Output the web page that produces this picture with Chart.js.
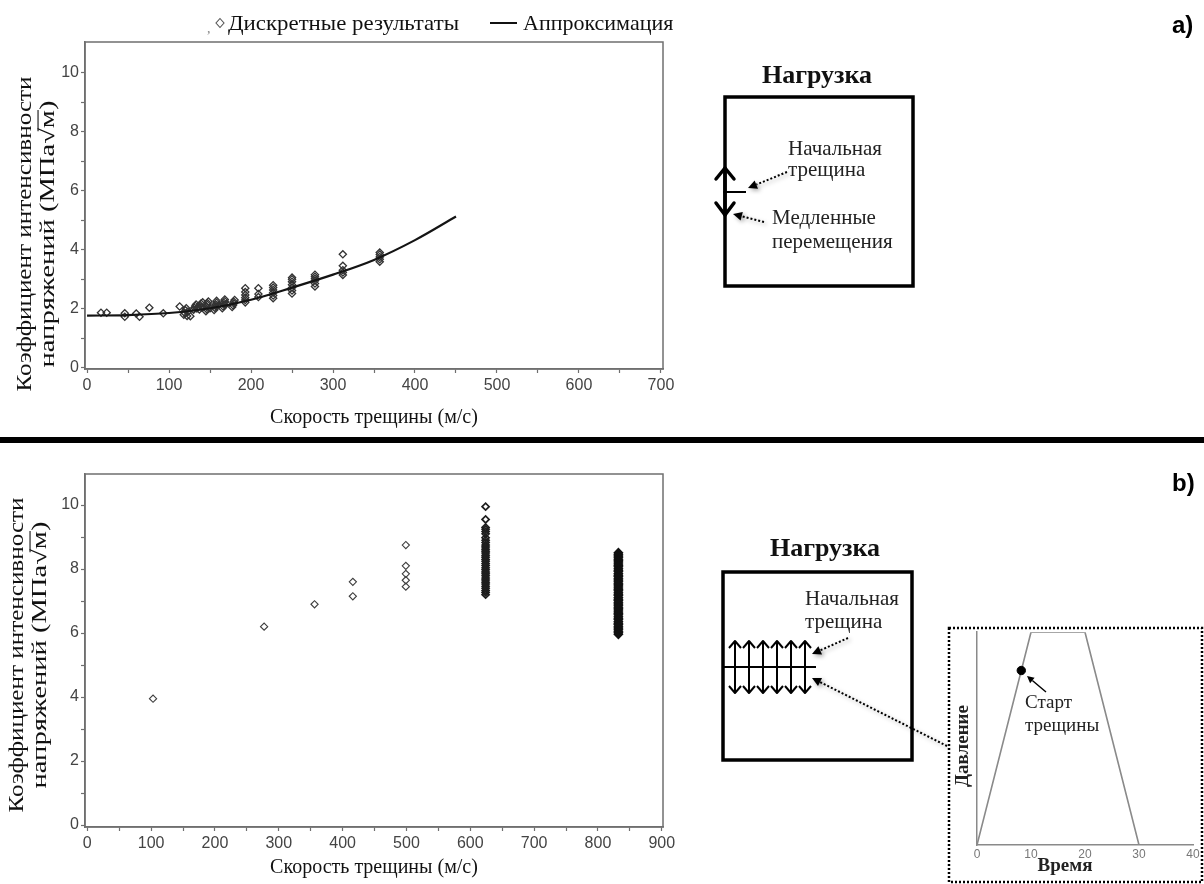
<!DOCTYPE html>
<html>
<head>
<meta charset="utf-8">
<script src="https://cdn.jsdelivr.net/npm/chart.js@4.4.1/dist/chart.umd.min.js"></script>
<style>
  html, body { margin: 0; padding: 0; background: #fff; }
  #page { position: relative; width: 1204px; height: 884px; overflow: hidden; background: #fff; }
  canvas { position: absolute; }
  #art { position: absolute; left: 0; top: 0; }
</style>
</head>
<body>
<div id="page">
  <canvas id="chartA" width="700" height="440" style="left:0;top:0"></canvas>
  <canvas id="chartB" width="700" height="440" style="left:0;top:444px"></canvas>
  <canvas id="chartP" width="256" height="257" style="left:948px;top:627px"></canvas>

  <svg id="art" width="1204" height="884" viewBox="0 0 1204 884"
       font-family="'Liberation Serif', 'Times New Roman', serif">
    <!-- legend of panel a -->
    <text x="207" y="33" font-size="14" fill="#888">,</text>
    <polygon points="220,18.5 224,23 220,27.5 216,23" fill="none" stroke="#555" stroke-width="1.1"/>
    <text x="228" y="30" font-size="22" fill="#111" textLength="231" lengthAdjust="spacingAndGlyphs">Дискретные результаты</text>
    <line x1="490" y1="23" x2="517" y2="23" stroke="#111" stroke-width="2"/>
    <text x="523" y="30" font-size="22" fill="#111">Аппроксимация</text>

    <!-- vertical axis titles are added by the script below -->
    <g id="ytitles"></g>

    <!-- divider and panel letters -->
    <rect x="0" y="437" width="1204" height="6" fill="#000"/>
    <g font-family="'Liberation Sans', Arial, sans-serif" font-weight="bold" font-size="24" fill="#000">
      <text x="1172" y="33">a)</text>
      <text x="1172" y="491">b)</text>
    </g>

    <!-- panel a: loading scheme -->
    <text x="817" y="83" font-size="26" font-weight="bold" text-anchor="middle" fill="#111">Нагрузка</text>
    <rect x="725" y="97" width="188" height="189" fill="none" stroke="#000" stroke-width="3.5"/>
    <line x1="725" y1="192" x2="746" y2="192" stroke="#000" stroke-width="2"/>
    <g stroke="#000" stroke-width="3.5" fill="none" stroke-linecap="round" stroke-linejoin="round">
      <line x1="725" y1="192" x2="725" y2="168"/>
      <polyline points="716,179 725,168 734,179"/>
      <line x1="725" y1="192" x2="725" y2="215"/>
      <polyline points="716,203 725,215 734,203"/>
    </g>
    <g font-size="21" fill="#222">
      <text x="788" y="155">Начальная</text>
      <text x="788" y="176">трещина</text>
      <text x="772" y="224">Медленные</text>
      <text x="772" y="248">перемещения</text>
    </g>

    <!-- panel b: loading scheme -->
    <text x="825" y="556" font-size="26" font-weight="bold" text-anchor="middle" fill="#111">Нагрузка</text>
    <rect x="723" y="572" width="189" height="188" fill="none" stroke="#000" stroke-width="3.5"/>
    <line x1="723" y1="667" x2="816" y2="667" stroke="#000" stroke-width="2"/>
    <g id="pulls" stroke="#000" stroke-width="2" fill="none" stroke-linejoin="round"></g>
    <g font-size="21" fill="#222">
      <text x="805" y="605">Начальная</text>
      <text x="805" y="628">трещина</text>
    </g>

    <!-- pressure history frame and its labels -->
    <rect x="949" y="628" width="253" height="254" fill="none" stroke="#000" stroke-width="2.5" stroke-dasharray="2 2"/>
    <g font-size="19" fill="#222">
      <text x="1025" y="708">Старт</text>
      <text x="1025" y="731">трещины</text>
    </g>
    <g font-size="19" font-weight="bold" fill="#222" text-anchor="middle">
      <text x="1065" y="871">Время</text>
      <text transform="translate(968,746) rotate(-90)">Давление</text>
    </g>
    <g id="pointers" style="filter: drop-shadow(2px 2px 2px rgba(0,0,0,0.35))"></g>
    <g id="startPointer"></g>
  </svg>
</div>

<script>
// ---------- panel a: slow loading ----------
const topSpeed = [17, 24, 46, 46, 60, 64, 76, 93, 113,
  118, 119, 120, 121, 122, 123, 126,
  130, 131, 132, 133, 134, 136, 137, 138, 139, 140, 141,
  145, 146, 146, 147, 147, 148, 150,
  155, 156, 157, 157, 158, 158, 160,
  165, 166, 167, 167, 168, 168, 170,
  177, 178, 179, 179, 180,
  193, 193, 193, 193, 193, 193,
  209, 209, 209,
  227, 227, 227, 227, 227, 227,
  250, 250, 250, 250, 250, 250, 250,
  278, 278, 278, 278, 278, 278,
  312, 312, 312, 312, 312,
  357, 357, 357, 357, 357];
const topK = [1.87, 1.87, 1.85, 1.73, 1.84, 1.73, 2.04, 1.85, 2.08,
  1.80, 1.87, 1.95, 2.02, 1.76, 1.90, 1.75,
  1.97, 2.04, 2.10, 2.15, 2.01, 2.07, 1.98, 2.12, 2.18, 2.05, 2.22,
  1.92, 1.99, 2.06, 2.13, 2.19, 2.25, 2.02,
  1.96, 2.03, 2.09, 2.15, 2.21, 2.27, 2.12,
  2.02, 2.08, 2.14, 2.20, 2.26, 2.32, 2.17,
  2.06, 2.12, 2.18, 2.24, 2.30,
  2.22, 2.30, 2.38, 2.47, 2.57, 2.70,
  2.40, 2.50, 2.70,
  2.36, 2.45, 2.55, 2.64, 2.72, 2.80,
  2.52, 2.62, 2.72, 2.82, 2.92, 3.00, 3.06,
  2.76, 2.86, 2.95, 3.02, 3.09, 3.16,
  3.15, 3.23, 3.31, 3.46, 3.85,
  3.60, 3.68, 3.76, 3.84, 3.91];

// approximation curve
const fitSpeed = [0, 50, 100, 150, 200, 250, 300, 350, 400, 450];
const fitK = [1.77, 1.79, 1.86, 2.02, 2.31, 2.72, 3.16, 3.66, 4.33, 5.13];

const topXLabels = [0, 100, 200, 300, 400, 500, 600, 700];
const topXMinor = [50, 150, 250, 350, 450, 550, 650];
const yLabels = [0, 2, 4, 6, 8, 10];
const yMinor = [1, 3, 5, 7, 9];

// ---------- panel b: dynamic loading ----------
const bottomSpeed = [103, 277, 356, 416, 416, 499, 499, 499, 499, 499];
const bottomK = [3.95, 6.20, 6.90, 7.15, 7.60, 7.45, 7.65, 7.85, 8.10, 8.75];
const speed624 = 624;
const k624 = [9.95, 9.55, 9.30, 9.24, 9.17, 9.10, 8.98, 8.90, 8.83, 8.75, 8.69, 8.62,
  8.56, 8.50, 8.43, 8.37, 8.30, 8.24, 8.17, 8.11, 8.04, 7.98, 7.91, 7.85, 7.79, 7.72,
  7.66, 7.59, 7.53, 7.46, 7.40, 7.33, 7.27, 7.20];
const speed832 = 832;
const k832 = [8.51, 8.46, 8.41, 8.37, 8.31, 8.26, 8.22, 8.16, 8.11, 8.07, 8.01, 7.96,
  7.92, 7.86, 7.81, 7.77, 7.71, 7.66, 7.62, 7.56, 7.51, 7.47, 7.41, 7.36, 7.32, 7.26,
  7.21, 7.17, 7.11, 7.06, 7.02, 6.96, 6.91, 6.87, 6.81, 6.76, 6.72, 6.66, 6.61, 6.57,
  6.51, 6.46, 6.42, 6.36, 6.31, 6.27, 6.21, 6.16, 6.12, 6.06, 6.01, 5.96];
const bottomXLabels = [0, 100, 200, 300, 400, 500, 600, 700, 800, 900];
const bottomXMinor = [50, 150, 250, 350, 450, 550, 650, 750, 850];

// ---------- pressure history ----------
const pulseTime = [0, 10, 20, 30, 40];
const pulsePressure = [0, 1, 1, 0, 0];
const startTime = [8.2];
const startPressure = [0.82];
const pulseTicks = [0, 10, 20, 30, 40];

// ---------- shared styling ----------
const SERIF = "'Liberation Serif', 'Times New Roman', serif";
const SANS = "'Liberation Sans', Arial, sans-serif";
const AXIS = '#6f6f6f';

const toPoints = (xs, ys) => xs.map((x, i) => ({ x, y: ys[i] }));

// box around the plotting area
const framePlugin = {
  id: 'frame',
  afterDraw(chart, args, opts) {
    const { ctx, chartArea: a } = chart;
    ctx.save();
    ctx.strokeStyle = opts.color || AXIS;
    ctx.lineWidth = opts.width || 1.5;
    ctx.strokeRect(a.left, a.top, a.right - a.left, a.bottom - a.top);
    ctx.restore();
  }
};

function mainScales(opt) {
  return {
    x: {
      type: 'linear', min: opt.xMin, max: opt.xMax,
      afterBuildTicks: s => { s.ticks = opt.xLabels.concat(opt.xMinor).sort((a, b) => a - b).map(v => ({ value: v })); },
      afterFit: s => { s.height = opt.xAxisHeight; },
      ticks: {
        autoSkip: false, maxRotation: 0, padding: 3, color: '#444',
        font: { family: SANS, size: 16 },
        callback: v => opt.xLabels.includes(v) ? String(v) : ''
      },
      grid: { drawOnChartArea: false, drawTicks: true, tickLength: 4, tickColor: AXIS, tickWidth: 1.2 },
      border: { color: AXIS, width: 1.5 },
      title: { display: true, text: 'Скорость трещины (м/с)', color: '#111', padding: 0,
               font: { family: SERIF, size: 20 } }
    },
    y: {
      type: 'linear', min: opt.yMin, max: opt.yMax,
      afterBuildTicks: s => { s.ticks = yLabels.concat(yMinor).sort((a, b) => a - b).map(v => ({ value: v })); },
      afterFit: s => { s.width = 85; },
      ticks: {
        autoSkip: false, padding: 2, color: '#444',
        font: { family: SANS, size: 16 },
        callback: v => yLabels.includes(v) ? String(v) : ''
      },
      grid: { drawOnChartArea: false, drawTicks: true, tickLength: 4, tickColor: AXIS, tickWidth: 1.2 },
      border: { color: AXIS, width: 1.5 },
      title: { display: false }
    }
  };
}

const common = {
  responsive: false,
  animation: false,
  events: [],
  plugins: { legend: { display: false }, tooltip: { enabled: false }, frame: { color: AXIS, width: 1.5 } }
};

// panel a chart
new Chart(document.getElementById('chartA'), {
  type: 'scatter',
  data: {
    datasets: [
      {
        label: 'Аппроксимация',
        data: toPoints(fitSpeed, fitK),
        showLine: true, borderColor: '#141414', borderWidth: 2.2,
        pointRadius: 0, cubicInterpolationMode: 'monotone', fill: false
      },
      {
        label: 'Дискретные результаты',
        data: toPoints(topSpeed, topK),
        pointStyle: 'rectRot', pointRadius: 3.6, pointBorderWidth: 1.3,
        pointBorderColor: '#333', pointBackgroundColor: 'rgba(255,255,255,0)'
      }
    ]
  },
  options: Object.assign({}, common, {
    layout: { padding: { left: 0, top: 42, right: 37, bottom: 10 } },
    scales: mainScales({ xMin: -2.5, xMax: 702.5, yMin: -0.04, yMax: 11.05,
                         xLabels: topXLabels, xMinor: topXMinor, xAxisHeight: 61 })
  }),
  plugins: [framePlugin]
});

// panel b chart
new Chart(document.getElementById('chartB'), {
  type: 'scatter',
  data: {
    datasets: [
      {
        label: 'Дискретные результаты',
        data: toPoints(bottomSpeed, bottomK),
        pointStyle: 'rectRot', pointRadius: 3.6, pointBorderWidth: 1.1,
        pointBorderColor: '#3e3e3e', pointBackgroundColor: 'rgba(255,255,255,0)'
      },
      {
        label: 'Дискретные результаты 624',
        data: k624.map(y => ({ x: speed624, y })),
        pointStyle: 'rectRot', pointRadius: 3.5, pointBorderWidth: 1.7,
        pointBorderColor: '#1e1e1e', pointBackgroundColor: 'rgba(255,255,255,0)'
      },
      {
        label: 'Дискретные результаты 832',
        data: k832.map(y => ({ x: speed832, y })),
        pointStyle: 'rectRot', pointRadius: 4, pointBorderWidth: 1.6,
        pointBorderColor: '#111', pointBackgroundColor: '#111'
      }
    ]
  },
  options: Object.assign({}, common, {
    layout: { padding: { left: 0, top: 30, right: 37, bottom: 4 } },
    scales: mainScales({ xMin: -3.6, xMax: 901.9, yMin: -0.06, yMax: 10.97,
                         xLabels: bottomXLabels, xMinor: bottomXMinor, xAxisHeight: 53 })
  }),
  plugins: [framePlugin]
});

// pressure history inset
new Chart(document.getElementById('chartP'), {
  type: 'scatter',
  data: {
    datasets: [
      {
        label: 'Старт трещины',
        data: toPoints(startTime, startPressure),
        pointRadius: 4.2, pointBackgroundColor: '#000', pointBorderColor: '#000'
      },
      {
        label: 'Давление',
        data: toPoints(pulseTime, pulsePressure),
        showLine: true, borderColor: '#8a8a8a', borderWidth: 1.6, pointRadius: 0, tension: 0
      }
    ]
  },
  options: {
    responsive: false, animation: false, events: [],
    layout: { padding: { left: 3, top: 5, right: 11, bottom: 9 } },
    plugins: { legend: { display: false }, tooltip: { enabled: false } },
    scales: {
      x: {
        type: 'linear', min: 0, max: 40,
        afterBuildTicks: s => { s.ticks = pulseTicks.map(v => ({ value: v })); },
        afterFit: s => { s.height = 30; },
        ticks: { autoSkip: false, maxRotation: 0, padding: 2, color: '#777', font: { family: SANS, size: 12 } },
        grid: { drawOnChartArea: false, drawTicks: false },
        border: { color: '#8a8a8a', width: 1.5 },
        title: { display: false }
      },
      y: {
        type: 'linear', min: 0, max: 1,
        afterFit: s => { s.width = 26; },
        ticks: { display: false },
        grid: { drawOnChartArea: false, drawTicks: false },
        border: { color: '#8a8a8a', width: 1.5 },
        title: { display: false }
      }
    }
  }
});

// ---------- svg helpers ----------
const NS = 'http://www.w3.org/2000/svg';
function el(parent, name, attrs, text) {
  const e = document.createElementNS(NS, name);
  for (const k in attrs) e.setAttribute(k, attrs[k]);
  if (text !== undefined) e.textContent = text;
  parent.appendChild(e);
  return e;
}

// two-line rotated title; baselines given as x positions on the page
function yTitle(cy, base1, base2, size) {
  const host = document.getElementById('ytitles');
  const g = el(host, 'g', { transform: `translate(0,${cy}) rotate(-90)`, 'font-size': size, fill: '#111', 'text-anchor': 'middle' });
  el(g, 'text', { x: 0, y: base1, textLength: 315, lengthAdjust: 'spacingAndGlyphs' }, 'Коэффициент интенсивности');
  const line2 = 'напряжений (МПа√м)';
  const t2 = el(g, 'text', { x: 0, y: base2, textLength: 267, lengthAdjust: 'spacingAndGlyphs' }, line2);
  // bar of the square root over "м"
  const i = line2.indexOf('√');
  const r = t2.getExtentOfChar(i), m = t2.getExtentOfChar(i + 1);
  const barY = base2 - 0.76 * size;
  el(g, 'line', { x1: r.x + r.width * 0.8, y1: barY, x2: m.x + m.width, y2: barY, stroke: '#111', 'stroke-width': 1.1 });
}
yTitle(234, 31, 54, 21);
yTitle(655, 23, 46, 21);

function pointer(parent, x1, y1, x2, y2, dash, width, headLen, headHalf) {
  const dx = x2 - x1, dy = y2 - y1, len = Math.hypot(dx, dy);
  const ux = dx / len, uy = dy / len;
  const bx = x2 - ux * headLen, by = y2 - uy * headLen;
  const line = { x1, y1, x2: bx, y2: by, stroke: '#000', 'stroke-width': width };
  if (dash) line['stroke-dasharray'] = dash;
  el(parent, 'line', line);
  el(parent, 'polygon', {
    points: `${x2},${y2} ${bx - uy * headHalf},${by + ux * headHalf} ${bx + uy * headHalf},${by - ux * headHalf}`,
    fill: '#000'
  });
}

// six double-headed pulls along the crack
const pulls = document.getElementById('pulls');
[735, 749, 763, 777, 791, 805].forEach(x => {
  el(pulls, 'line', { x1: x, y1: 641, x2: x, y2: 693 });
  el(pulls, 'polyline', { points: `${x - 6},${648} ${x},${641} ${x + 6},${648}` });
  el(pulls, 'polyline', { points: `${x - 6},${686} ${x},${693} ${x + 6},${686}` });
});

const ptr = document.getElementById('pointers');
pointer(ptr, 787, 172, 748, 188, '2 2', 2, 9, 4.5);
pointer(ptr, 764, 222, 733, 214, '2 2', 2, 9, 4.5);
pointer(ptr, 848, 638, 812, 654, '2 2', 2, 9, 4.5);
pointer(ptr, 947, 746, 812, 678, '2 2', 2, 9, 4.5);
pointer(document.getElementById('startPointer'), 1046, 692, 1027, 676, null, 1.4, 7, 3.5);
</script>
</body>
</html>
